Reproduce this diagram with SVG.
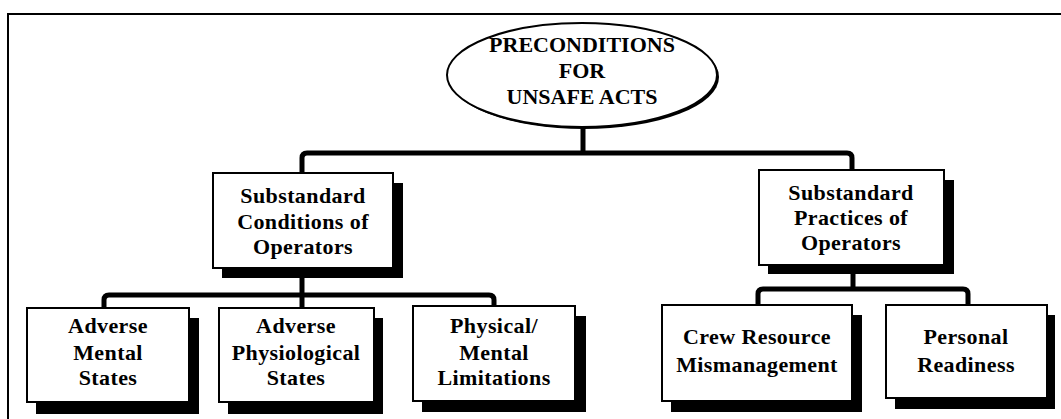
<svg xmlns="http://www.w3.org/2000/svg" width="1061" height="419" viewBox="0 0 1061 419">
<style>
.box{fill:#fff;stroke:#000;stroke-width:2}
.sh{fill:#000}
.t{font-family:"Liberation Serif","Times New Roman",serif;font-weight:bold;font-size:22px;text-anchor:middle;fill:#000}
.b{letter-spacing:0.4px}
.c{fill:none;stroke:#000;stroke-width:5}
</style>
<rect width="1061" height="419" fill="#fff"/>
<path d="M8,419 V14 H1061" fill="none" stroke="#000" stroke-width="2"/>
<g id="connectors">
<path class="c" d="M583,126 V153"/>
<path class="c" d="M302,173 V158 Q302,153 307,153 H847 Q852,153 852,158 V170"/>
<path class="c" d="M302,278 V308"/>
<path class="c" d="M104,308 V300 Q104,295 109,295 H489 Q494,295 494,300 V306"/>
<path class="c" d="M853,274 V289"/>
<path class="c" d="M758,305 V294 Q758,289 763,289 H963 Q968,289 968,294 V305"/>
</g>
<g id="root">
<ellipse cx="584" cy="77" rx="135" ry="52" fill="#000"/>
<ellipse cx="582" cy="75" rx="135" ry="52" fill="#fff" stroke="#000" stroke-width="2"/>
<text class="t" x="582" y="52">PRECONDITIONS</text>
<text class="t" x="582" y="78">FOR</text>
<text class="t" x="582" y="104">UNSAFE ACTS</text>
</g>
<g id="conditions">
<rect class="sh" x="222" y="183" width="181" height="95"/>
<rect class="box" x="213" y="173" width="180" height="95"/>
<text class="t b" x="303" y="203">Substandard</text>
<text class="t b" x="303" y="229">Conditions of</text>
<text class="t b" x="303" y="254">Operators</text>
</g>
<g id="practices">
<rect class="sh" x="768" y="180" width="186" height="94"/>
<rect class="box" x="759" y="170" width="185" height="95"/>
<text class="t b" x="851" y="200">Substandard</text>
<text class="t b" x="851" y="225">Practices of</text>
<text class="t b" x="851" y="250">Operators</text>
</g>
<g id="mental">
<rect class="sh" x="36" y="318" width="163" height="96"/>
<rect class="box" x="27" y="308" width="162" height="94"/>
<text class="t b" x="108" y="333">Adverse</text>
<text class="t b" x="108" y="360">Mental</text>
<text class="t b" x="108" y="385">States</text>
</g>
<g id="physiological">
<rect class="sh" x="228" y="318" width="155" height="96"/>
<rect class="box" x="219" y="308" width="155" height="94"/>
<text class="t b" x="296" y="333">Adverse</text>
<text class="t b" x="296" y="360">Physiological</text>
<text class="t b" x="296" y="385">States</text>
</g>
<g id="limitations">
<rect class="sh" x="422" y="316" width="164" height="96"/>
<rect class="box" x="413" y="306" width="162" height="95"/>
<text class="t b" x="494" y="333">Physical/</text>
<text class="t b" x="494" y="360">Mental</text>
<text class="t b" x="494" y="385">Limitations</text>
</g>
<g id="crm">
<rect class="sh" x="671" y="315" width="191" height="97"/>
<rect class="box" x="662" y="305" width="190" height="96"/>
<text class="t b" x="757" y="344">Crew Resource</text>
<text class="t b" x="757" y="372">Mismanagement</text>
</g>
<g id="readiness">
<rect class="sh" x="895" y="315" width="160" height="94"/>
<rect class="box" x="886" y="305" width="161" height="93"/>
<text class="t b" x="966" y="344">Personal</text>
<text class="t b" x="966" y="372">Readiness</text>
</g>
</svg>
